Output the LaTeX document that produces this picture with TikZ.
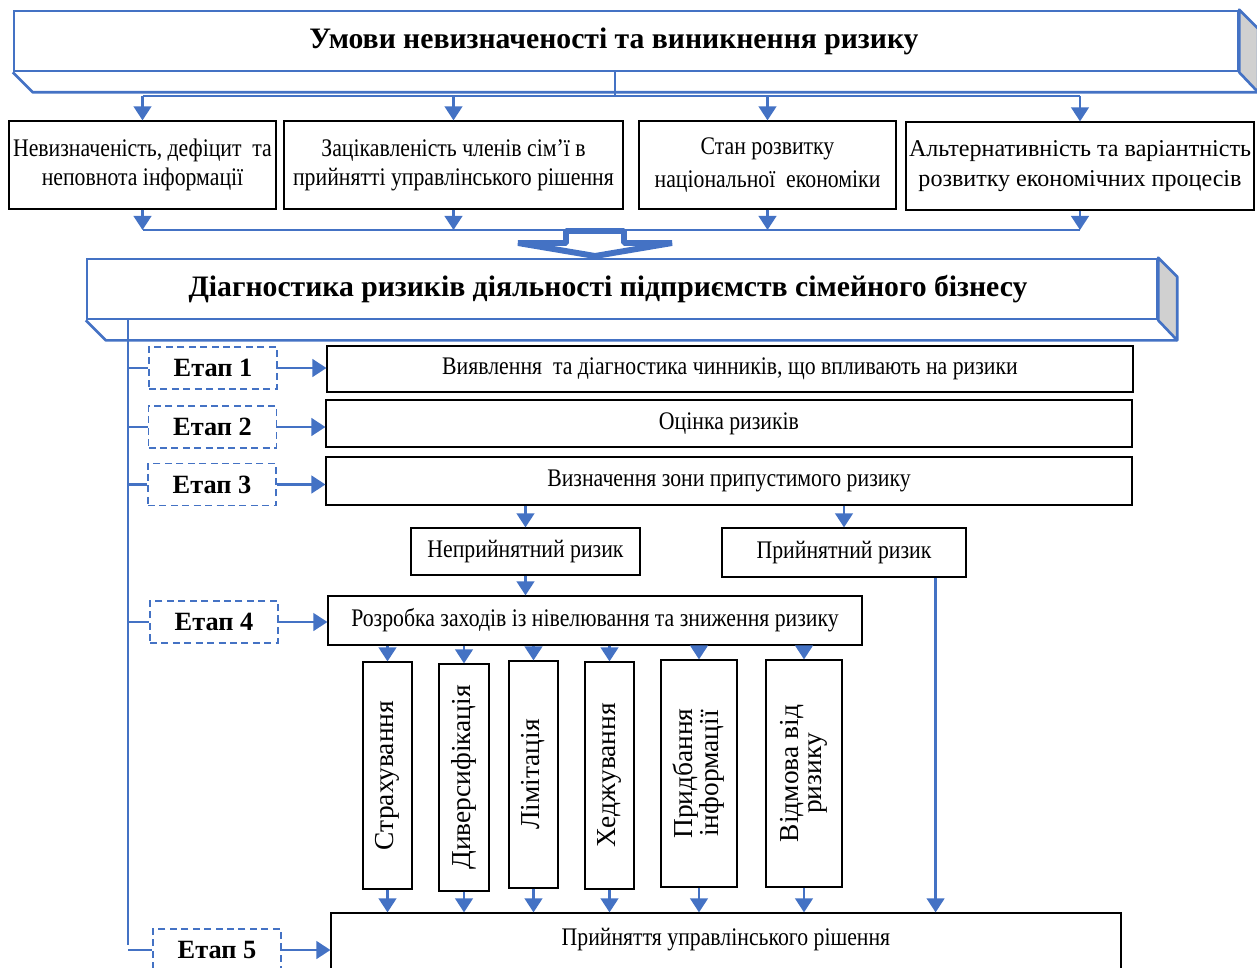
\documentclass[tikz,border=0pt]{standalone}
\usepackage{fontspec}
\setmainfont{Liberation Serif}
\newfontfamily\narrowfont[FakeStretch=0.86]{Liberation Serif}
\usepackage{xcolor}
\usetikzlibrary{calc}
\usetikzlibrary{arrows.meta}
\definecolor{linkblue}{RGB}{68,114,196}
\definecolor{sidegray}{RGB}{208,208,208}
\tikzset{
  every node/.style = {inner sep=0pt, align=center}
}
\tikzset{
  link/.style = {draw=linkblue, line width=1.5pt},
  flow/.style = {link, -{Triangle[length=8pt,width=10pt]}},
  hollow arrow/.style = {draw=linkblue, line width=3.4pt, fill=white, line join=bevel}
}
\tikzset{
  title box/.style = {draw=linkblue, line width=1.5pt, fill=white,
    font=\bfseries\fontsize{16.9}{20}\selectfont},
  factor box/.style = {draw, line width=0.7pt,
    font=\narrowfont\fontsize{14.4}{16.3}\selectfont},
  stage box/.style = {draw=linkblue, dash pattern=on 4pt off 2.5pt, line width=1.1pt,
    minimum width=2.56cm, minimum height=0.84cm,
    font=\bfseries\fontsize{15}{18}\selectfont},
  way box/.style = {draw, line width=0.7pt, minimum height=4.54cm,
    font=\fontsize{15.6}{13}\selectfont}
}
% bevelled bottom and grey right side of a title slab
\newcommand{\slab}[1]{
  \draw[link, fill=sidegray, line join=round]
    (#1.north east) -- ++(19,19) -- ($(#1.south east)+(19,20)$) -- (#1.south east) -- cycle;
  \draw[link, line join=round]
    (#1.south west) -- ++(20,20) -- ($(#1.south east)+(19,20)$);
}
\newcommand{\upright}[1]{\rotatebox{90}{\begin{tabular}{@{}c@{}}#1\end{tabular}}}

\begin{document}
\begin{tikzpicture}[x=0.02cm, y=-0.02cm]
  \useasboundingbox (0,0) rectangle (1257,967);
  \clip (0,0) rectangle (1257,967);

  \node[title box, minimum width=24.48cm, minimum height=1.2cm] (cond) at (626,41)
    {Умови невизначеності та виникнення ризику\hspace*{0.48cm}};
  \slab{cond}

  \node[factor box, minimum width=5.34cm, minimum height=1.76cm] (lack) at (142.5,165)
    {Невизначеність, дефіцит\ \ та\\неповнота інформації};
  \node[factor box, minimum width=6.78cm, minimum height=1.76cm] (family) at (453.5,165)
    {Зацікавленість членів сім’ї в\\прийнятті управлінського рішення};
  \node[factor box, minimum width=5.14cm, minimum height=1.76cm,
    font=\narrowfont\fontsize{14.4}{19}\selectfont] (economy) at (767.5,165)
    {Стан розвитку\\національної\ \ економіки};
  \node[factor box, minimum width=6.96cm, minimum height=1.76cm,
    font=\fontsize{13.7}{17.5}\selectfont] (variants) at (1080,166)
    {Альтернативність та варіантність\\розвитку економічних процесів};

  \coordinate (top bus) at (615,96);
  \coordinate (low bus) at (620,230);
  \draw[link] (cond.south -| top bus) -- (top bus);
  \draw[link] (lack.north |- top bus) -- (variants.north |- top bus);
  \draw[link] (lack.south |- low bus) -- (variants.south |- low bus);
  \foreach \n in {lack,family,economy,variants} {
    \draw[flow] (\n.north |- top bus) -- (\n.north);
    \draw[flow] (\n.south) -- (\n.south |- low bus);
  }

  \node[title box, minimum width=21.4cm, minimum height=1.2cm] (diag) at (622,289)
    {Діагностика ризиків діяльності підприємств сімейного бізнесу\hspace*{0.56cm}};
  \slab{diag}

  \coordinate (merge) at (595,230);
  \draw[hollow arrow] (merge) ++(-29,1) -- ++(58,0) -- ++(0,12) -- ++(48,0)
    -- ++(-77,13) -- ++(-77,-13) -- ++(48,0) -- cycle;

  % stages
  \foreach \i/\x/\y in {1/213/368, 2/212.5/427, 3/212/484.5, 4/214/622, 5/217/950}
    \node[stage box] (stage\i) at (\x,\y) {Етап \i};

  \node[factor box, minimum width=16.12cm, minimum height=0.92cm] (detect) at (730,369)
    {Виявлення\ \ та діагностика чинників, що впливають на ризики};
  \node[factor box, minimum width=16.12cm, minimum height=0.94cm] (assess) at (729,423.5)
    {Оцінка ризиків};
  \node[factor box, minimum width=16.12cm, minimum height=0.96cm] (zone) at (729,481)
    {Визначення зони припустимого ризику};
  \node[factor box, minimum width=4.58cm, minimum height=0.94cm] (reject) at (525.5,551.5)
    {Неприйнятний ризик};
  \node[factor box, minimum width=4.88cm, minimum height=0.98cm] (accept) at (844,552.5)
    {Прийнятний ризик};
  \node[factor box, minimum width=10.68cm, minimum height=0.98cm] (measures) at (595,620.5)
    {Розробка заходів із нівелювання та зниження ризику};
  \node[factor box, minimum width=15.8cm, minimum height=1.54cm,
    text height=10pt, text depth=17.3pt] (decision) at (726,951.5)
    {Прийняття управлінського рішення};

  \node[way box, minimum width=0.98cm] (insure) at (387.5,775.5) {\upright{Страхування}};
  \node[way box, minimum width=1cm] (diversify) at (464,777.5) {\upright{Диверсифікація}};
  \node[way box, minimum width=0.98cm] (limit) at (533.5,774.5) {\upright{Лімітація}};
  \node[way box, minimum width=0.98cm] (hedge) at (609.5,775.5) {\upright{Хеджування}};
  \node[way box, minimum width=1.52cm] (inform) at (699,773.5) {\upright{Придбання\\інформації}};
  \node[way box, minimum width=1.52cm] (refuse) at (804,773.5) {\upright{Відмова від\\ризику}};

  \coordinate (trunk) at (128,945);
  \draw[link] (diag.south -| trunk) -- (trunk);
  \foreach \s/\p in {1/detect, 2/assess, 3/zone, 4/measures, 5/decision} {
    \draw[link] (stage\s.west -| trunk) -- (stage\s.west);
    \draw[flow] (stage\s.east) -- (stage\s.east -| \p.west);
  }

  \draw[flow] (zone.south -| reject.north) -- (reject.north);
  \draw[flow] (zone.south -| accept.north) -- (accept.north);
  \draw[flow] (reject.south) -- (reject.south |- measures.north);
  \coordinate (accept foot) at ($(accept.south east)+(-31,0)$);
  \draw[flow] (accept foot) -- (accept foot |- decision.north);

  \foreach \w in {insure,diversify,limit,hedge,inform,refuse} {
    \draw[flow] (measures.south -| \w.north) -- (\w.north);
    \draw[flow] (\w.south) -- (\w.south |- decision.north);
  }
\end{tikzpicture}
\end{document}
